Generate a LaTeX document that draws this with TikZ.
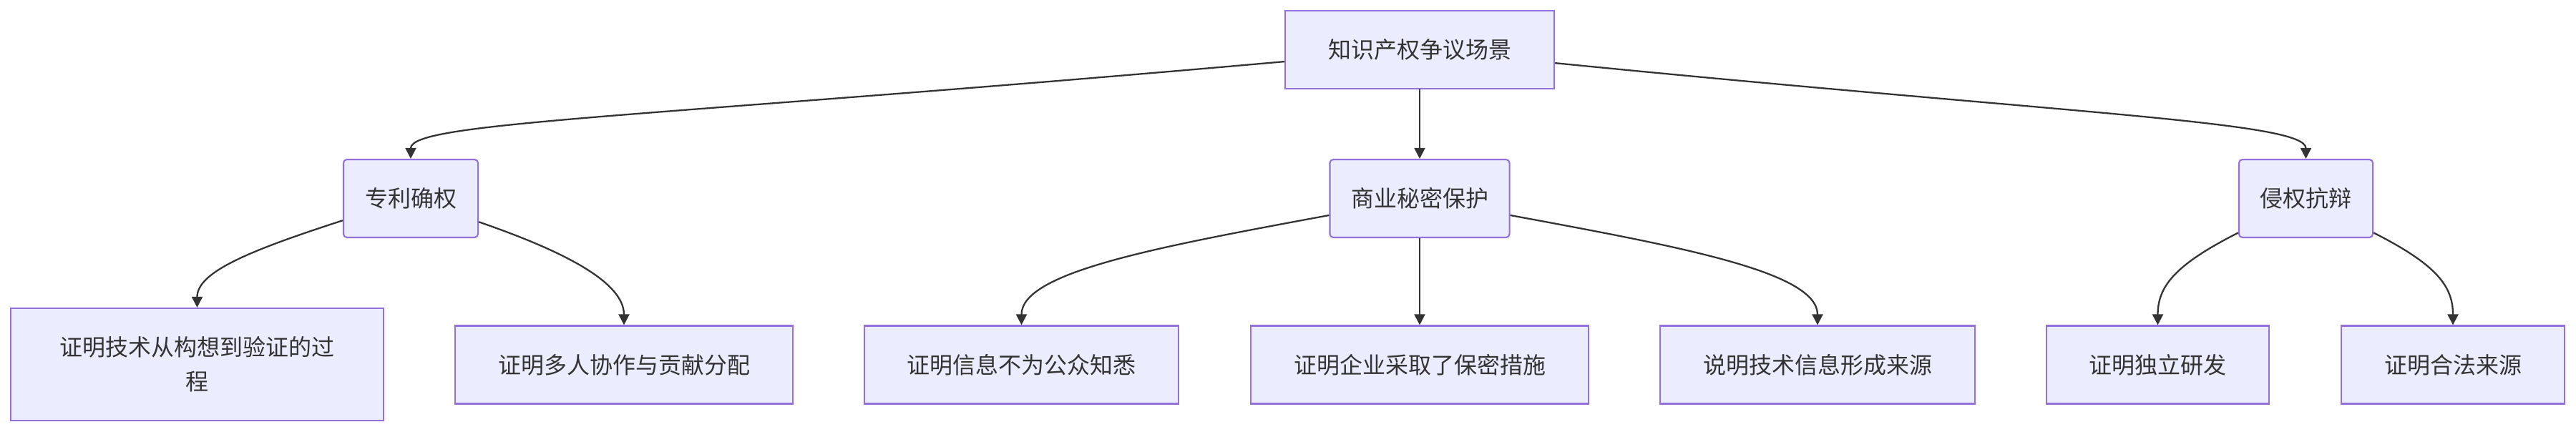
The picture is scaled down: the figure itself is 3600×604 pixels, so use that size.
\documentclass[tikz,border=0pt]{standalone}
\usepackage{fontspec}
\newfontfamily\cjk{Noto Sans CJK SC}
\usetikzlibrary{arrows.meta}

\definecolor{boxfill}{HTML}{ECECFF}
\definecolor{boxline}{HTML}{9370DB}
\definecolor{ink}{HTML}{333333}

\begin{document}
\begin{tikzpicture}[x=0.01cm, y=-0.01cm,
		box/.style={draw=boxline, fill=boxfill, line width=0.6pt, text=ink, inner sep=0pt,
			font=\cjk\fontsize{9.1pt}{13.66pt}\selectfont, align=center, minimum height=1.09cm},
		roundbox/.style={box, rounded corners=1.4pt},
		edge/.style={draw=ink, line width=0.65pt, -{Triangle[length=4.3pt, width=4.3pt]}}]
		\useasboundingbox (0, 0) rectangle (3600, 604);
		
		% root
		\node[box, minimum width=3.76cm] (scene) at (1984, 69.5) {知识产权争议场景};
		
		% second row
		\node[roundbox, minimum width=1.88cm] (patent) at (574, 277.5) {专利确权};
		\node[roundbox, minimum width=2.51cm] (secret) at (1984, 277.5) {商业秘密保护};
		\node[roundbox, minimum width=1.87cm] (defense) at (3222.5, 277.5) {侵权抗辩};
		
		% third row
		\node[box, minimum width=5.21cm, minimum height=1.57cm] (process) at (275.5, 509.5) {证明技术从构想到验证的过\\程};
		\node[box, minimum width=4.72cm] (share) at (872, 510) {证明多人协作与贡献分配};
		\node[box, minimum width=4.39cm] (unknown) at (1427.5, 510) {证明信息不为公众知悉};
		\node[box, minimum width=4.72cm] (measures) at (1984, 510) {证明企业采取了保密措施};
		\node[box, minimum width=4.40cm] (origin) at (2540, 510) {说明技术信息形成来源};
		\node[box, minimum width=3.11cm] (independent) at (3015.5, 510) {证明独立研发};
		\node[box, minimum width=3.12cm] (legal) at (3428, 510) {证明合法来源};
		
		% root to second row
		\draw[edge] (scene) .. controls (900, 165) and (574, 170) .. (patent);
		\draw[edge] (scene) -- (secret);
		\draw[edge] (scene) .. controls (2900, 160) and (3222.5, 170) .. (defense);
		
		% second row to third row
		\draw[edge] (patent) .. controls (350, 350) and (275.5, 380) .. (process);
		\draw[edge] (patent) .. controls (790, 352) and (872, 395) .. (share);
		\draw[edge] (secret) .. controls (1620, 345) and (1427.5, 380) .. (unknown);
		\draw[edge] (secret) -- (measures);
		\draw[edge] (secret) .. controls (2348, 345) and (2540, 380) .. (origin);
		\draw[edge] (defense) .. controls (3040, 370) and (3015.5, 400) .. (independent);
		\draw[edge] (defense) .. controls (3405, 370) and (3428, 400) .. (legal);
		
	\end{tikzpicture}
\end{document}
